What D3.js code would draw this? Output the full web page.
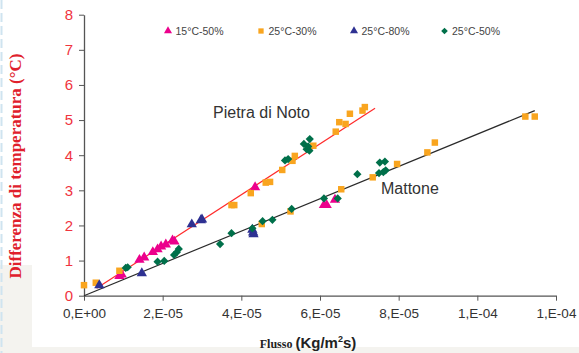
<!DOCTYPE html>
<html>
<head>
<meta charset="utf-8">
<script src="https://cdn.jsdelivr.net/npm/d3@7"></script>
<style>
  body { margin: 0; background: #fff; }
  svg { display: block; font-family: Arial, "Liberation Sans", sans-serif; }
</style>
</head>
<body>
<svg id="chart" width="579" height="353"></svg>
<script>
// data: [flusso, deltaT]
const pink15_50 = [
  [9.0e-6, 0.56], [9.6e-6, 0.60], [1.41e-5, 1.02], [1.53e-5, 1.09], [1.75e-5, 1.24],
  [1.87e-5, 1.32], [1.96e-5, 1.40], [2.08e-5, 1.46], [2.25e-5, 1.57], [2.30e-5, 1.54],
  [4.35e-5, 3.09], [6.10e-5, 2.58], [6.17e-5, 2.58], [6.38e-5, 2.73]
];
const orange25_30 = [
  [0.0, 0.30], [3.0e-6, 0.37], [9.0e-6, 0.71], [3.75e-5, 2.58], [3.82e-5, 2.58],
  [4.24e-5, 2.92], [4.62e-5, 3.22], [4.73e-5, 3.24], [5.04e-5, 3.58], [5.30e-5, 3.84],
  [5.36e-5, 3.98], [5.83e-5, 4.27], [6.40e-5, 4.67], [6.49e-5, 4.94], [6.65e-5, 4.89],
  [6.76e-5, 5.18], [7.08e-5, 5.27], [7.14e-5, 5.37],
  [4.52e-5, 2.04], [5.25e-5, 2.40], [6.54e-5, 3.03], [7.34e-5, 3.37], [7.96e-5, 3.75],
  [8.73e-5, 4.08], [8.92e-5, 4.36], [1.122e-4, 5.10], [1.146e-4, 5.10]
];
const blue25_80 = [
  [3.9e-6, 0.30], [1.47e-5, 0.64], [2.74e-5, 2.03], [2.97e-5, 2.15], [3.0e-5, 2.17],
  [4.28e-5, 1.88], [4.30e-5, 1.80], [4.31e-5, 1.75]
];
const green25_50 = [
  [1.06e-5, 0.79], [1.11e-5, 0.81], [1.87e-5, 0.97], [2.04e-5, 0.99], [2.29e-5, 1.16],
  [2.36e-5, 1.24], [2.41e-5, 1.33], [3.46e-5, 1.47], [3.75e-5, 1.78], [4.28e-5, 1.92],
  [4.54e-5, 2.12], [4.79e-5, 2.16], [5.28e-5, 2.47], [6.10e-5, 2.77], [6.45e-5, 2.77],
  [6.95e-5, 3.46], [7.50e-5, 3.49], [7.61e-5, 3.52], [7.67e-5, 3.57], [7.52e-5, 3.79],
  [7.65e-5, 3.82],
  [5.11e-5, 3.85], [5.19e-5, 3.89], [5.59e-5, 4.32], [5.74e-5, 4.46], [5.66e-5, 4.17],
  [5.73e-5, 4.13], [5.70e-5, 4.25]
];
// trend lines
const pietraLine = [[3.2e-6, 0.21], [7.40e-5, 5.34]];
const mattoneLine = [[0, 0], [1.146e-4, 5.27]];

const xTicks = [0, 2e-5, 4e-5, 6e-5, 8e-5, 1e-4, 1.2e-4];
const yTicks = [0, 1, 2, 3, 4, 5, 6, 7, 8];

// square diamond (rotated square), like the spreadsheet marker
const symbolRhomb = {
  draw(ctx, size) {
    const r = Math.sqrt(size / 2);
    ctx.moveTo(0, -r); ctx.lineTo(r, 0); ctx.lineTo(0, r); ctx.lineTo(-r, 0); ctx.closePath();
  }
};

const series = [
  { name: '15°C-50%', data: pink15_50, color: '#ec008c', shape: d3.symbolTriangle, size: 46 },
  { name: '25°C-30%', data: orange25_30, color: '#f9a51f', shape: d3.symbolSquare, size: 42 },
  { name: '25°C-80%', data: blue25_80, color: '#2e3192', shape: d3.symbolTriangle, size: 46 },
  { name: '25°C-50%', data: green25_50, color: '#00704a', shape: symbolRhomb, size: 34 }
];

const svg = d3.select('#chart');

// background decoration
svg.append('rect').attr('x', 0).attr('y', 265).attr('width', 32).attr('height', 88).attr('fill', '#f4f3ef');
svg.append('rect').attr('x', 0).attr('y', 347).attr('width', 579).attr('height', 6).attr('fill', '#f4f3ef');
svg.append('line').attr('x1', 1.5).attr('x2', 1.5).attr('y1', 0).attr('y2', 353)
  .attr('stroke', '#cfe4f0').attr('stroke-width', 2).attr('stroke-dasharray', '9 4');

const x = d3.scaleLinear().domain([0, 1.2e-4]).range([84, 556]);
const y = d3.scaleLinear().domain([0, 8]).range([295.7, 14.7]);

const fmtX = v => {
  if (v === 0) return '0,E+00';
  const e = Math.floor(Math.log10(v) + 1e-9);
  const m = Math.round(v / Math.pow(10, e));
  return m + ',E' + (e < 0 ? '-' : '+') + String(Math.abs(e)).padStart(2, '0');
};

const xAxis = svg.append('g')
  .attr('transform', `translate(0,${y(0)})`)
  .call(d3.axisBottom(x).tickValues(xTicks).tickFormat(fmtX).tickSizeInner(5).tickSizeOuter(0));
xAxis.select('.domain').attr('stroke', '#555').attr('stroke-width', 1.3);
xAxis.selectAll('.tick line').attr('stroke', '#555');
xAxis.selectAll('.tick text').attr('fill', '#333').attr('font-size', 13.5)
  .attr('font-family', 'Arial, "Liberation Sans", sans-serif').attr('dy', '1.05em');

const yAxis = svg.append('g')
  .attr('transform', `translate(${x(0)},0)`)
  .call(d3.axisLeft(y).tickValues(yTicks).tickFormat(d3.format('d')).tickSizeInner(5).tickSizeOuter(0));
yAxis.select('.domain').attr('stroke', '#555').attr('stroke-width', 1.3);
yAxis.selectAll('.tick line').attr('stroke', '#555');
yAxis.selectAll('.tick text').attr('fill', '#f0343e').attr('font-size', 15)
  .attr('font-family', 'Arial, "Liberation Sans", sans-serif').attr('x', -11);

// trend lines
const line = d3.line().x(d => x(d[0])).y(d => y(d[1]));
svg.append('path').datum(mattoneLine).attr('d', line)
  .attr('fill', 'none').attr('stroke', '#2a2a2a').attr('stroke-width', 1.2);
svg.append('path').datum(pietraLine).attr('d', line)
  .attr('fill', 'none').attr('stroke', '#ff2b2b').attr('stroke-width', 1.2);

// points
series.forEach(s => {
  svg.append('g').selectAll('path')
    .data(s.data)
    .join('path')
    .attr('transform', d => `translate(${x(d[0])},${y(d[1])})`)
    .attr('d', d3.symbol().type(s.shape).size(s.size))
    .attr('fill', s.color);
});

// line labels
svg.append('text').attr('x', 213).attr('y', 118).attr('font-size', 16).attr('fill', '#333')
  .text('Pietra di Noto');
svg.append('text').attr('x', 381).attr('y', 194).attr('font-size', 16).attr('fill', '#333')
  .text('Mattone');

// legend
const legendX = [168, 261, 354, 444.5];
const legend = svg.append('g');
series.forEach((s, i) => {
  legend.append('path')
    .attr('transform', `translate(${legendX[i]},31)`)
    .attr('d', d3.symbol().type(s.shape).size(s.shape === symbolRhomb ? 22 : 28))
    .attr('fill', s.color);
  legend.append('text')
    .attr('x', legendX[i] + 7.5).attr('y', 34.5)
    .attr('font-size', 10.5).attr('fill', '#444')
    .text(s.name);
});

// axis titles
svg.append('text')
  .attr('transform', 'translate(21,166) rotate(-90)')
  .attr('text-anchor', 'middle')
  .attr('font-family', '"Liberation Serif", "DejaVu Serif", serif')
  .attr('font-weight', 'bold').attr('font-size', 17).attr('fill', '#e0202c')
  .text('Differenza di temperatura  (°C)');

const xt = svg.append('text').attr('x', 308).attr('y', 348).attr('text-anchor', 'middle').attr('fill', '#222');
xt.append('tspan').attr('font-family', '"Liberation Serif", serif').attr('font-weight', 'bold')
  .attr('font-size', 12).text('Flusso ');
xt.append('tspan').attr('font-weight', 'bold').attr('font-size', 15).text(' (Kg/m');
xt.append('tspan').attr('font-weight', 'bold').attr('font-size', 9).attr('dy', -6).text('2');
xt.append('tspan').attr('font-weight', 'bold').attr('font-size', 15).attr('dy', 6).text('s)');
</script>
</body>
</html>
